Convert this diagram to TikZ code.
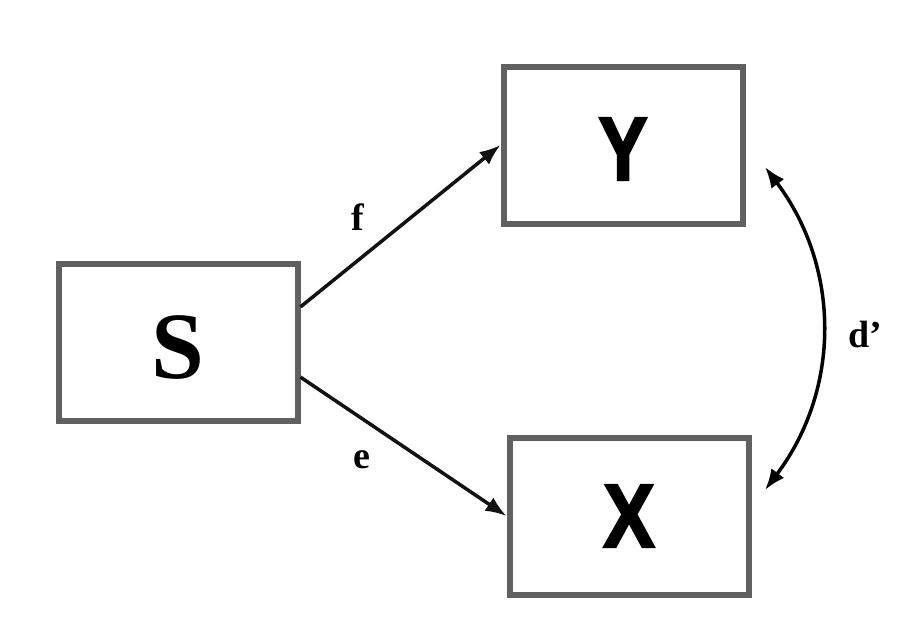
\documentclass[tikz,border=0pt]{standalone}
\usepackage{fontspec}
\setmainfont{Liberation Serif}
\newfontfamily\letterserif{Liberation Serif Bold}
\newfontfamily\heavysans[FakeBold = 2.5]{Liberation Sans Bold}
\usetikzlibrary{arrows.meta}

\definecolor{boxgray}{HTML}{606060}

\begin{document}
\begin{tikzpicture}[> = {Latex[length = 21pt, width = 16pt]}, x = 1pt, y = -1pt]

	% Definitions

	\def\W{239}			% Width of boxes
	\def\H{157}			% Height of boxes

	\tikzset{
		box/.style = {draw = boxgray, line width = 6pt, fill = white, inner sep = 0pt,
			minimum width = \W pt, minimum height = \H pt},
		link/.style = {->, line width = 3.5pt, draw = black!93},
		lbl/.style = {font = \bfseries\fontsize{38}{38}\selectfont, inner sep = 0pt}
	}

	\fill [white] (0, 0) rectangle (912, 630);
	\useasboundingbox (0, 0) rectangle (912, 630);

	% Boxes

	\node [box] (S) at (178, 342) {\raisebox{-6pt}[\height][\depth]{\letterserif\fontsize{95}{95}\selectfont S}};
	\node [box] (Y) at (623, 145) {\raisebox{-4pt}[\height][\depth]{\scalebox{0.82}[1]{\heavysans\fontsize{90}{90}\selectfont Y}}};
	\node [box] (X) at (629, 516) {\scalebox{0.86}[1]{\heavysans\fontsize{90}{90}\selectfont X}};

	% Paths with labels

	\draw [link] (S.16) -- node [lbl, pos = 0.39, shift = {(-21, -27)}] (f) {f} (Y.west);
	\draw [link] (S.-16) -- node [lbl, pos = 0.385, shift = {(-18, 29)}] (e) {e} (X.west);

	% Correlation between Y and X

	\coordinate (dY) at (765, 167);
	\coordinate (dX) at (765, 490);
	\draw [<->, line width = 3.5pt] (dY) to [bend left = 37] node [lbl, midway, right = 25pt, yshift = -6pt] (d) {d’} (dX);

\end{tikzpicture}
\end{document}
